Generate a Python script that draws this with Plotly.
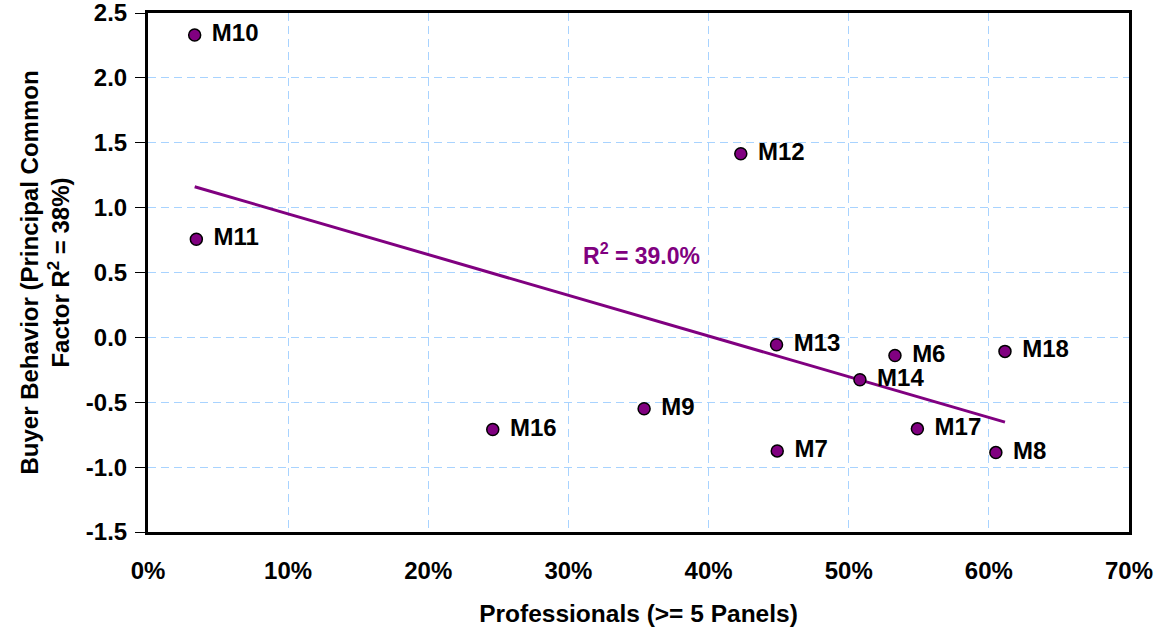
import numpy as np
import plotly.graph_objects as go

labels = ["M10", "M11", "M12", "M13", "M6", "M18", "M14", "M17", "M8", "M7", "M9", "M16"]
professionals = [3.33, 3.45, 42.3, 44.85, 53.3, 61.15, 50.8, 54.9, 60.5, 44.9, 35.4, 24.6]  # percent
buyer_behavior = [2.33, 0.756, 1.415, -0.057, -0.14, -0.108, -0.326, -0.705, -0.888, -0.875, -0.55, -0.71]

x_tickvals = [0, 10, 20, 30, 40, 50, 60, 70]
x_ticktext = ["0%", "10%", "20%", "30%", "40%", "50%", "60%", "70%"]
y_tickvals = [-1.5, -1.0, -0.5, 0.0, 0.5, 1.0, 1.5, 2.0, 2.5]
y_ticktext = ["-1.5", "-1.0", "-0.5", "0.0", "0.5", "1.0", "1.5", "2.0", "2.5"]
r2_label = "R<sup>2</sup> = 39.0%"

PURPLE = "#800080"
GRID = "#A8D3FF"
FONT = "Liberation Sans, Arial, sans-serif"

xs = np.array(professionals)
ys = np.array(buyer_behavior)
slope, intercept = np.polyfit(xs, ys, 1)
line_x = np.array([xs.min(), xs.max()])
line_y = slope * line_x + intercept

fig = go.Figure()
fig.add_trace(go.Scatter(
    x=line_x, y=line_y, mode="lines",
    line=dict(color=PURPLE, width=3),
    hoverinfo="skip", showlegend=False,
))
fig.add_trace(go.Scatter(
    x=professionals, y=buyer_behavior, mode="markers+text",
    text=[" \u200a" + t for t in labels], textposition="middle right",
    textfont=dict(family=FONT, size=24, color="black", weight="bold"),
    marker=dict(color=PURPLE, size=12, line=dict(color="black", width=1.5)),
    showlegend=False, cliponaxis=False,
))

fig.add_annotation(
    x=35.2, y=0.64, xref="x", yref="y", text="<b>" + r2_label + "</b>",
    showarrow=False, font=dict(family=FONT, size=23, color=PURPLE),
)

fig.update_layout(
    width=1159, height=635,
    margin=dict(l=148, r=30, t=13, b=103),
    paper_bgcolor="white", plot_bgcolor="white",
    font=dict(family=FONT, color="black"),
)
fig.update_xaxes(
    range=[0, 70], tickvals=x_tickvals, ticktext=x_ticktext,
    tickfont=dict(family=FONT, size=24, weight="bold"),
    showgrid=True, gridcolor=GRID, griddash="8px,5px", gridwidth=1,
    zeroline=False, automargin=False, ticklabeloverflow="allow",
    showline=True, linecolor="black", linewidth=3, mirror=True,
    ticks="", ticklen=0, ticklabelstandoff=15,
    title=dict(text="<b>Professionals (>= 5 Panels)</b>", font=dict(family=FONT, size=24.5), standoff=23),
)
fig.update_yaxes(
    range=[-1.5, 2.5], tickvals=y_tickvals, ticktext=y_ticktext,
    tickfont=dict(family=FONT, size=24, weight="bold"),
    showgrid=True, gridcolor=GRID, griddash="8px,5px", gridwidth=1,
    zeroline=False, automargin=False, ticklabeloverflow="allow",
    showline=True, linecolor="black", linewidth=3, mirror=True,
    ticks="outside", ticklen=10, tickcolor="black", tickwidth=1,
    ticklabelstandoff=3,
    title=dict(text="<b>Buyer Behavior (Principal Common<br>Factor R<sup>2</sup> = 38%)</b>",
               font=dict(family=FONT, size=24), standoff=10),
)

fig.write_html(
    "out.html",
    config={"displayModeBar": False},
    post_script="document.body.style.margin='0';document.body.style.overflow='hidden';",
)
